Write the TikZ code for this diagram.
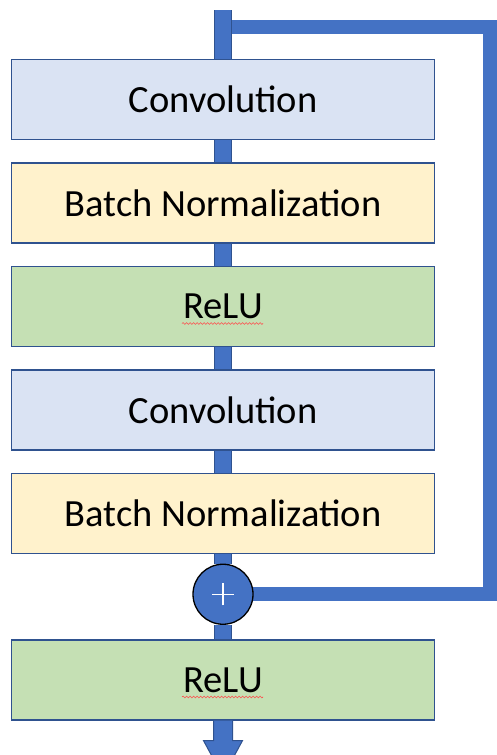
\documentclass[tikz,border=0pt]{standalone}
\usepackage{fontspec}
\setmainfont{Carlito}
\usetikzlibrary{positioning,backgrounds,decorations.pathmorphing}

\definecolor{lineblue}{HTML}{4472C4}
\definecolor{edgeblue}{HTML}{2F528F}
\definecolor{convfill}{HTML}{DAE3F3}
\definecolor{bnfill}{HTML}{FFF2CC}
\definecolor{relufill}{HTML}{C5E0B4}

\tikzset{
	layer/.style={draw=edgeblue, line width=1.2pt, minimum width=423pt, minimum height=80pt,
		inner sep=0pt, font=\fontsize{38.5}{46}\selectfont},
	trunk/.style={draw=edgeblue, line width=1pt, double=lineblue, double distance=16pt},
	skip/.style={draw=lineblue, line width=14pt, line join=miter},
	sumnode/.style={circle, draw=black, line width=1.3pt, fill=lineblue, minimum size=60pt, inner sep=0pt},
	typo/.style={draw=red!70, line width=0.6pt, decorate,
		decoration={snake, amplitude=0.9pt, segment length=3.5pt}}
}

\begin{document}
\begin{tikzpicture}[x=1pt,y=-1pt]
	\useasboundingbox (0,0) rectangle (496,755);
	% layers
	\node[layer, fill=convfill] (conv1) at (223,99.5) {Convolution};
	\node[layer, fill=bnfill, below=22.3pt of conv1] (bn1) {Batch Normalization};
	\node[layer, fill=relufill, below=22.3pt of bn1] (relu1) {ReLU};
	\node[layer, fill=convfill, below=22.3pt of relu1] (conv2) {Convolution};
	\node[layer, fill=bnfill, below=22.3pt of conv2] (bn2) {Batch Normalization};
	\node[sumnode, below=9.5pt of bn2] (sum) {};
	\node[layer, fill=relufill, below=14.5pt of sum] (relu2) {ReLU};
	\coordinate (in) at (223,10);
	\coordinate (split) at (223,27);
	\coordinate (corner) at (490,27);
	\coordinate[below=20pt of relu2.south] (out);
	% plus sign
	\draw[white, line width=1.3pt] ([xshift=-11pt]sum.center) -- ([xshift=11pt]sum.center);
	\draw[white, line width=1.3pt] ([yshift=-11pt]sum.center) -- ([yshift=11pt]sum.center);
	% spell check marks
	\draw[typo] ([xshift=-41pt,yshift=-17pt]relu1.center) -- ([xshift=40pt,yshift=-17pt]relu1.center);
	\draw[typo] ([xshift=-41pt,yshift=-17pt]relu2.center) -- ([xshift=40pt,yshift=-17pt]relu2.center);
	\begin{scope}[on background layer]
		\draw[skip] (split) -- (corner) |- (sum.center);
		\draw[trunk] (in) -- (conv1.north);
		\draw[trunk] (conv1) -- (bn1);
		\draw[trunk] (bn1) -- (relu1);
		\draw[trunk] (relu1) -- (conv2);
		\draw[trunk] (conv2) -- (bn2);
		\draw[trunk] (bn2) -- (sum);
		\draw[trunk] (sum) -- (relu2);
	\end{scope}
	% output arrow
	\filldraw[draw=edgeblue, fill=lineblue, line width=1pt]
		([xshift=-9.5pt]relu2.south) -- ([xshift=-9.5pt]out) -- ([xshift=-19.5pt]out)
		-- ([yshift=-36pt]out) -- ([xshift=19.5pt]out) -- ([xshift=9.5pt]out)
		-- ([xshift=9.5pt]relu2.south);
\end{tikzpicture}
\end{document}
